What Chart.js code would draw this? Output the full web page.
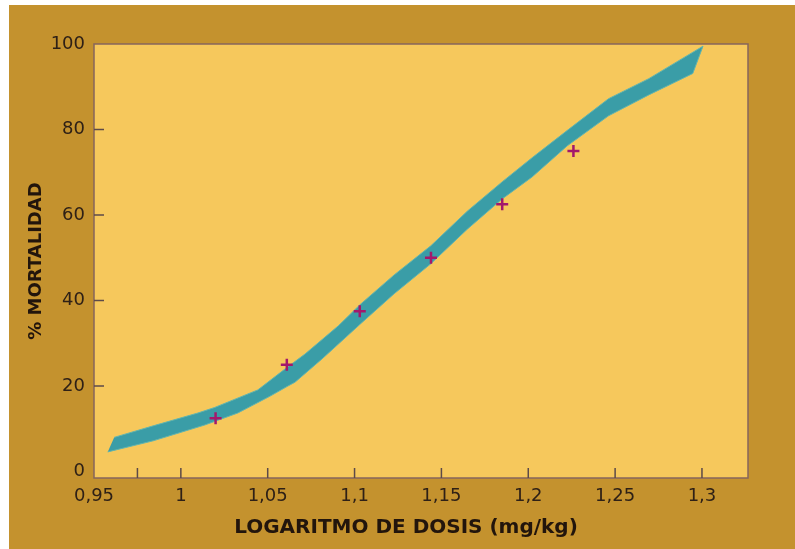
<!DOCTYPE html>
<html>
<head>
<meta charset="utf-8">
<script src="https://cdn.jsdelivr.net/npm/chart.js@4/dist/chart.umd.min.js"></script>
<style>
  html, body { margin: 0; padding: 0; background: #ffffff; }
  #frame {
    position: absolute; left: 9px; top: 5px;
    width: 786px; height: 544px;
    background: #c4922e;
  }
  canvas { display: block; }
</style>
</head>
<body>
<div id="frame"><canvas id="chart" width="786" height="544"></canvas></div>
<script>
// Axis ticks
const xTickValues = [0.95, 0.975, 1, 1.05, 1.1, 1.15, 1.2, 1.25, 1.3];
const xTickLabels = ['0,95', '', '1', '1,05', '1,1', '1,15', '1,2', '1,25', '1,3'];
const yTickValues = [0, 20, 40, 60, 80, 100];

// Observed mortality at each log dose
const logDose = [1.02, 1.061, 1.103, 1.144, 1.185, 1.226];
const mortality = [12.5, 25, 37.5, 50, 62.5, 75];

// Confidence band around the fitted dose-response curve
const bandUpperX = [0.9616, 0.9841, 1.0098, 1.0195, 1.0443, 1.0616, 1.0715, 1.0907, 1.1033, 1.1228, 1.1439, 1.1649, 1.1851, 1.2022, 1.2225, 1.2462, 1.2694, 1.3006];
const bandUpperY = [8.0, 10.7, 13.7, 15.0, 19.1, 24.5, 27.5, 34.1, 39.1, 46.0, 52.8, 60.9, 67.8, 73.4, 79.8, 87.2, 91.9, 99.5];
const bandLowerX = [0.9579, 0.9841, 1.0138, 1.0328, 1.0512, 1.0616, 1.0657, 1.0814, 1.1033, 1.1228, 1.1439, 1.1649, 1.1851, 1.2022, 1.2225, 1.2462, 1.2694, 1.2947];
const bandLowerY = [4.6, 7.2, 10.9, 13.7, 17.6, 20.0, 20.9, 26.4, 34.5, 41.6, 48.6, 56.7, 63.8, 68.9, 76.2, 83.2, 88.1, 93.1];

const xTitle = 'LOGARITMO DE DOSIS (mg/kg)';
const yTitle = '% MORTALIDAD';

// Closed outline of the band: upper edge left to right, lower edge back
const bandOutline = bandUpperX.map((x, i) => ({ x, y: bandUpperY[i] }))
  .concat(bandLowerX.map((x, i) => ({ x, y: bandLowerY[i] })).reverse());

const points = logDose.map((x, i) => ({ x, y: mortality[i] }));

const INK = '#2e2016';
const FRAME = '#86665c';

const plotFrame = {
  id: 'plotFrame',
  beforeDraw(chart) {
    const { ctx, chartArea: a } = chart;
    ctx.save();
    ctx.fillStyle = '#f6c85c';
    ctx.fillRect(a.left, a.top, a.right - a.left, a.bottom - a.top);
    ctx.restore();
  },
  afterDraw(chart) {
    const { ctx, chartArea: a, scales } = chart;
    ctx.save();
    ctx.strokeStyle = FRAME;
    ctx.lineWidth = 1.5;
    ctx.strokeRect(a.left, a.top, a.right - a.left, a.bottom - a.top);

    // inward tick marks
    ctx.strokeStyle = '#5d4a48';
    ctx.lineWidth = 1.5;
    const tickLen = 10;
    ctx.beginPath();
    scales.x.ticks.forEach(t => {
      const px = scales.x.getPixelForValue(t.value);
      if (px <= a.left + 1 || px >= a.right - 1) return;
      ctx.moveTo(px, a.bottom);
      ctx.lineTo(px, a.bottom - tickLen);
    });
    scales.y.ticks.forEach(t => {
      const py = scales.y.getPixelForValue(t.value);
      if (py <= a.top + 3 || py >= a.bottom - 8) return;
      ctx.moveTo(a.left, py);
      ctx.lineTo(a.left + tickLen, py);
    });
    ctx.stroke();

    // x-axis title, centred under the labelled tick span
    const first = scales.x.getPixelForValue(xTickValues[0]);
    const last = scales.x.getPixelForValue(xTickValues[xTickValues.length - 1]);
    ctx.fillStyle = '#22150c';
    ctx.font = 'bold 20px "DejaVu Sans"';
    ctx.textAlign = 'center';
    ctx.textBaseline = 'middle';
    ctx.fillText(xTitle, (first + last) / 2 + 8, scales.x.bottom - 21);
    ctx.restore();
  }
};

new Chart(document.getElementById('chart'), {
  type: 'scatter',
  data: {
    datasets: [
      {
        label: 'Mortalidad observada',
        data: points,
        order: 1,
        pointStyle: 'cross',
        pointRadius: 6,
        pointHoverRadius: 6,
        pointBorderWidth: 2.5,
        borderColor: '#a3186c',
        backgroundColor: '#a3186c',
        showLine: false
      },
      {
        label: 'Banda',
        data: bandOutline,
        order: 2,
        showLine: true,
        fill: 'shape',
        tension: 0,
        pointRadius: 0,
        pointHoverRadius: 0,
        borderWidth: 1,
        borderColor: '#62b5ae',
        backgroundColor: '#3a9da7'
      }
    ]
  },
  options: {
    responsive: false,
    animation: false,
    devicePixelRatio: 1,
    layout: { padding: { left: 0, top: 39, right: 47, bottom: 0 } },
    plugins: {
      legend: { display: false },
      tooltip: { enabled: false }
    },
    scales: {
      x: {
        type: 'linear',
        min: 0.95,
        max: 1.3265,
        afterFit(scale) { scale.height = 71; },
        afterBuildTicks(scale) { scale.ticks = xTickValues.map(v => ({ value: v })); },
        grid: { display: false, drawTicks: false },
        border: { display: false },
        ticks: {
          autoSkip: false,
          maxRotation: 0,
          padding: 8,
          color: INK,
          font: { family: '"DejaVu Sans"', size: 18 },
          callback: (v, i) => xTickLabels[i]
        }
      },
      y: {
        type: 'linear',
        min: -1.5,
        max: 100,
        afterFit(scale) { scale.width = 85; },
        afterBuildTicks(scale) { scale.ticks = yTickValues.map(v => ({ value: v })); },
        grid: { display: false, drawTicks: false },
        border: { display: false },
        ticks: {
          padding: 9,
          color: INK,
          font: { family: '"DejaVu Sans"', size: 18 },
          callback: v => String(v)
        },
        title: {
          display: true,
          text: yTitle,
          color: '#22150c',
          font: { family: '"DejaVu Sans"', size: 18, weight: 'bold' },
          padding: { top: 17, bottom: 0 }
        }
      }
    }
  },
  plugins: [plotFrame]
});
</script>
</body>
</html>
